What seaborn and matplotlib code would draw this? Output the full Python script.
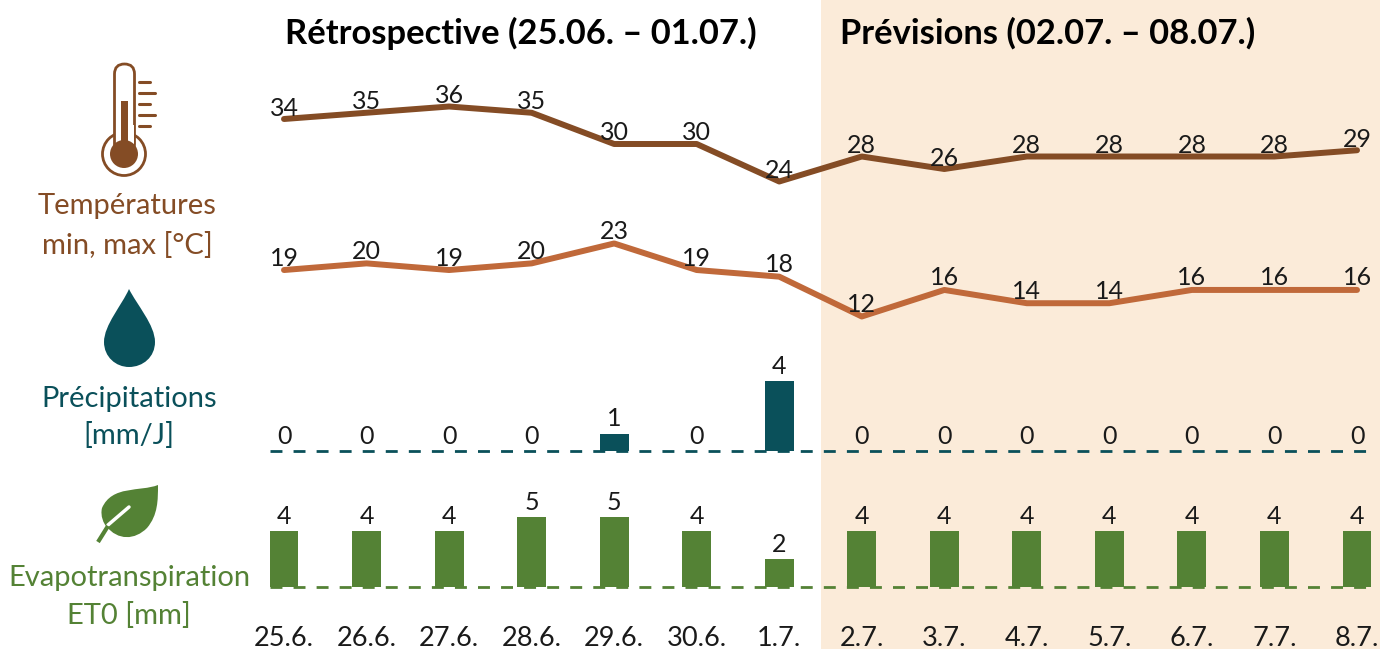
import numpy as np
import pandas as pd
import matplotlib.pyplot as plt
import seaborn as sns
from matplotlib.patches import Circle, FancyBboxPatch, PathPatch, Rectangle
from matplotlib.path import Path

# Donnees
dates = ['25.6.', '26.6.', '27.6.', '28.6.', '29.6.', '30.6.', '1.7.',
         '2.7.', '3.7.', '4.7.', '5.7.', '6.7.', '7.7.', '8.7.']
temp_max = [34, 35, 36, 35, 30, 30, 24, 28, 26, 28, 28, 28, 28, 29]
temp_min = [19, 20, 19, 20, 23, 19, 18, 12, 16, 14, 14, 16, 16, 16]
precip = [0, 0, 0, 0, 1, 0, 4, 0, 0, 0, 0, 0, 0, 0]
et0 = [4, 4, 4, 5, 5, 4, 2, 4, 4, 4, 4, 4, 4, 4]

BRUN = '#844C25'
ORANGE = '#C0693A'
TEAL = '#0A505A'
VERT = '#548235'
PECHE = '#FBEBD9'
NOIR = '#1a1a1a'

W, H = 1380, 649
sns.set_style('white')
plt.rcParams['font.family'] = ['Lato', 'DejaVu Sans']

df = pd.DataFrame({'date': dates, 'pos': np.arange(len(dates)), 'tmax': temp_max,
                   'tmin': temp_min, 'precip': precip, 'et0': et0})

fig = plt.figure(figsize=(W / 100, H / 100), dpi=100, facecolor='white')

# Fond en pixels : bande previsions, titres, icones
bg = fig.add_axes([0, 0, 1, 1], zorder=0)
bg.set_xlim(0, W)
bg.set_ylim(H, 0)
bg.axis('off')
bg.add_patch(Rectangle((821, 0), W - 821, H, color=PECHE, lw=0))

bg.text(521, 33, 'Rétrospective (25.06. – 01.07.)', fontsize=24.8, fontweight='bold',
        ha='center', va='center', color='black')
bg.text(1048, 33, 'Prévisions (02.07. – 08.07.)', fontsize=24.8, fontweight='bold',
        ha='center', va='center', color='black')

bg.text(127, 206, 'Températures', fontsize=21, color=BRUN, ha='center', va='center')
bg.text(127, 246, 'min, max [°C]', fontsize=21, color=BRUN, ha='center', va='center')
bg.text(129, 399, 'Précipitations', fontsize=21, color=TEAL, ha='center', va='center')
bg.text(129, 436, '[mm/J]', fontsize=21, color=TEAL, ha='center', va='center')
bg.text(129, 578, 'Evapotranspiration', fontsize=21, color=VERT, ha='center', va='center')
bg.text(129, 615, 'ET0 [mm]', fontsize=21, color=VERT, ha='center', va='center')

# Thermometre
bg.add_patch(Circle((124, 154), 21.5, fc='white', ec=BRUN, lw=2))
bg.add_patch(FancyBboxPatch((114.5, 64), 20, 90, boxstyle='round,pad=0,rounding_size=10',
                            fc='white', ec=BRUN, lw=2))
bg.add_patch(Rectangle((115.5, 125), 18, 30, fc='white', lw=0))
bg.add_patch(Circle((124, 154), 14, fc=BRUN, lw=0))
bg.add_patch(Rectangle((121, 101), 7, 45, fc=BRUN, lw=0))
for yt, xt in zip([82, 93, 104, 115, 126], [150, 155, 150, 155, 150]):
    bg.plot([139, xt], [yt, yt], color=BRUN, lw=2.2, solid_capstyle='round')

# Goutte
goutte = Path([(129, 289), (122, 305), (104, 325), (104, 342), (104, 357), (116, 367), (129, 367),
               (143, 367), (155, 357), (155, 342), (155, 325), (137, 305), (129, 289)],
              [1, 4, 4, 4, 4, 4, 4, 4, 4, 4, 4, 4, 4])
bg.add_patch(PathPatch(goutte, fc=TEAL, lw=0))

# Feuille
feuille = Path([(158, 485), (140, 492), (112, 485), (102, 508), (100, 516), (104, 524), (106, 526),
                (118, 541), (135, 540), (147, 528), (158, 515), (158, 500), (158, 485)],
               [1, 4, 4, 4, 4, 4, 4, 4, 4, 4, 4, 4, 4])
bg.add_patch(PathPatch(feuille, fc=VERT, lw=0))
bg.plot([108, 129], [525, 507], color='white', lw=2.5, solid_capstyle='round')
bg.plot([98, 108], [542, 526], color=VERT, lw=3, solid_capstyle='butt')


def panneau(y_haut, y_bas, v_bas, px_par_unite):
    # axe place en pixels, y calcule depuis l'echelle
    ax = fig.add_axes([270 / W, 1 - y_bas / H, (1372 - 270) / W, (y_bas - y_haut) / H], zorder=1)
    ax.patch.set_alpha(0)
    ax.set_xlim((270 - 284) / 82.54, (1372 - 284) / 82.54)
    ax.set_ylim(v_bas, v_bas + (y_bas - y_haut) / px_par_unite)
    return ax


def courbe(ax, col, couleur, decal):
    sns.lineplot(data=df, x='pos', y=col, color=couleur, lw=4.3, ax=ax, legend=False)
    for x, y in zip(df['pos'], df[col]):
        ax.annotate(str(y), (x, y), xytext=(0, decal), textcoords='offset pixels',
                    ha='center', va='center', fontsize=18, color=NOIR)
    ax.set_xlim((270 - 284) / 82.54, (1372 - 284) / 82.54)
    ax.axis('off')


def barres(ax, col, couleur):
    sns.barplot(data=df, x='date', y=col, color=couleur, width=0.35, saturation=1, ax=ax,
                edgecolor='none', linewidth=0)
    ax.axhline(0, color=couleur, lw=2, dashes=(4.3, 4.0), zorder=3)
    ax.bar_label(ax.containers[0], fmt='%d', padding=2.5, fontsize=18, color=NOIR)
    ax.set_xlim((270 - 284) / 82.54, (1372 - 284) / 82.54)
    ax.set_xlabel('')
    ax.set_ylabel('')


# Temperatures
ax_max = panneau(91, 201, 24 - (201 - 181.5) / 6.25, 6.25)
courbe(ax_max, 'tmax', BRUN, 11)
ax_min = panneau(231, 331, 12 - (331 - 316.5) / 6.64, 6.64)
courbe(ax_min, 'tmin', ORANGE, 12)

# Precipitations
ax_pr = panneau(370, 460, -9 / 17.5, 17.5)
barres(ax_pr, 'precip', TEAL)
ax_pr.axis('off')

# ET0
ax_et = panneau(500, 600, -13 / 14, 14)
barres(ax_et, 'et0', VERT)
ax_et.set_yticks([])
ax_et.tick_params(axis='x', length=0, pad=19, labelsize=19.5, labelcolor=NOIR)
sns.despine(ax=ax_et, left=True, bottom=True)

fig.savefig('out.png', dpi=100)
